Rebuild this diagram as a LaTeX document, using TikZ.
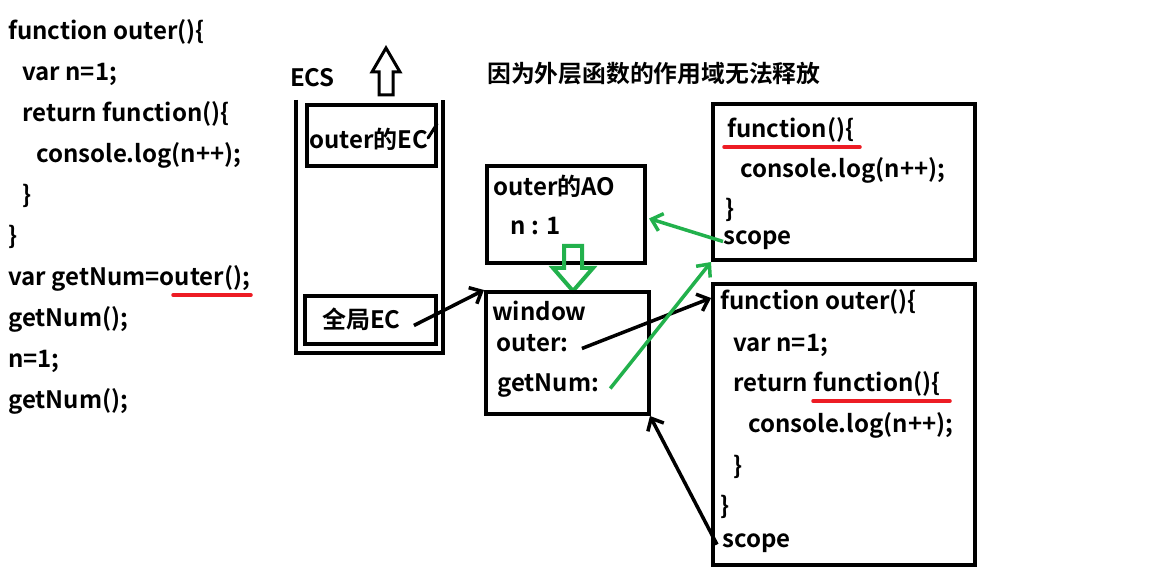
\documentclass[tikz,border=0pt]{standalone}
\usepackage{fontspec}
\setmainfont{Noto Sans CJK SC}[BoldFont={* Bold}]
\usetikzlibrary{arrows.meta}
\definecolor{pgreen}{HTML}{22B14C}
\definecolor{pred}{HTML}{ED1C24}
\newcommand{\codefont}{\fontsize{24}{28}\selectfont\bfseries}
\begin{document}
\begin{tikzpicture}[x=1pt,y=-1pt,
  txt/.style={inner sep=0pt, anchor=base west, font=\codefont, yshift=-9.5pt},
  box/.style={draw, line width=4pt, inner sep=0pt, anchor=north west},
  blk/.style={line width=3.5pt, -{Straight Barb[length=10pt,width=18pt]}},
  grn/.style={draw=pgreen, line width=3.5pt, -{Straight Barb[length=10pt,width=18pt]}},
  redline/.style={draw=pred, line width=3.5pt, line cap=round}]
\fill[white] (0,0) rectangle (1164,577);
\useasboundingbox (0,0) rectangle (1164,577);
% left code
\node[txt] (c1) at (8,30) {function outer()\{};
\node[txt] (c2) at (22,71) {var n=1;};
\node[txt] (c3) at (22,112) {return function()\{};
\node[txt] (c4) at (36,153) {console.log(n++);};
\node[txt] (c5) at (22,194) {\}};
\node[txt] (c6) at (8,235) {\}};
\node[txt] (c7) at (8,276) {var getNum=outer();};
\node[txt] (c8) at (8,317) {getNum();};
\node[txt] (c9) at (8,358) {n=1;};
\node[txt] (c10) at (8,399) {getNum();};
\draw[redline] (173,295) -- (251,295);
% ECS
\node[txt] (ecs) at (290,77) {ECS};
\draw[line width=3pt, line join=miter] (379,95) -- (379,72) -- (372,72) -- (386,48) -- (400,72) -- (393,72) -- (393,95) -- cycle;
\draw[line width=4pt] (296,100) -- (296,353) -- (443,353) -- (443,100);
\node[box, minimum width=129pt, minimum height=61pt] (ec) at (305,103) {};
\node[txt] (ectxt) at (309,139) {outer的EC};
\draw[line width=3pt, line cap=round] (428,138) -- (437,124);
\node[box, minimum width=131pt, minimum height=48pt] (ge) at (303,294) {};
\node[txt] (getxt) at (322,319) {全局EC};
% title
\node[txt, font=\fontsize{23.8}{26}\selectfont\bfseries] (title) at (487,73) {因为外层函数的作用域无法释放};
% AO
\node[box, minimum width=158pt, minimum height=97pt] (ao) at (485,164) {};
\node[txt] (aotxt) at (493,186) {outer的AO};
\node[txt] (aon) at (510,225) {n : 1};
\draw[pgreen, line width=4pt, line join=miter] (564,246) -- (582,246) -- (582,268) -- (593,268) -- (573,291) -- (553,268) -- (564,268) -- cycle;
% window
\node[box, minimum width=163pt, minimum height=122pt] (win) at (484,290) {};
\node[txt] (wtxt) at (492,311) {window};
\node[txt] (wouter) at (496,342) {outer:};
\node[txt] (wget) at (497,382) {getNum:};
% function box
\node[box, minimum width=262pt, minimum height=156pt] (fb) at (711,102) {};
\node[txt] (f1) at (727,128) {function()\{};
\draw[redline] (724,147) -- (860,147);
\node[txt] (f2) at (740,168) {console.log(n++);};
\node[txt] (f3) at (725,208) {\}};
\node[txt] (fscope) at (723,235) {scope};
% outer box
\node[box, minimum width=262pt, minimum height=281pt] (fo) at (711,282) {};
\node[txt] (o1) at (720,300) {function outer()\{};
\node[txt] (o2) at (733,342) {var n=1;};
\node[txt] (o3) at (733,382) {return function()\{};
\draw[redline] (813,401) -- (950,401);
\node[txt] (o4) at (748,423) {console.log(n++);};
\node[txt] (o5) at (733,465) {\}};
\node[txt] (o6) at (720,505) {\}};
\node[txt] (oscope) at (722,538) {scope};
% connectors
\draw[blk] ([xshift=13pt,yshift=3pt]getxt.base east) -- (win.north west);
\draw[blk] ([xshift=13pt,yshift=3pt]wouter.base east) -- ([yshift=-16pt]fo.north west);
\draw[grn] ([xshift=11pt,yshift=3pt]wget.base east) -- (fb.south west);
\draw[grn] ([yshift=3pt]fscope.base west) -- ([yshift=-4pt,xshift=2pt]ao.east);
\draw[blk] ([xshift=-5pt,yshift=3pt]oscope.base west) -- ([xshift=-1pt]win.south east);
\end{tikzpicture}
\end{document}
